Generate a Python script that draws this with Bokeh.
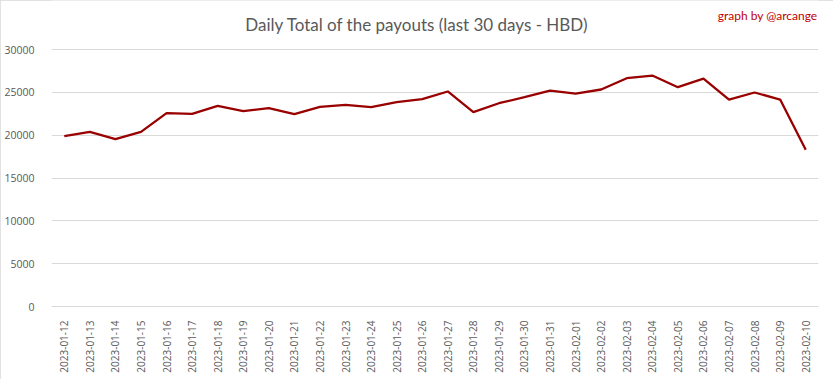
from bokeh.plotting import figure
from bokeh.models import Range1d, FactorRange, FixedTicker, NumeralTickFormatter, Label
from bokeh.embed import file_html
from bokeh.resources import INLINE
import math

dates = ["2023-01-12", "2023-01-13", "2023-01-14", "2023-01-15", "2023-01-16", "2023-01-17",
         "2023-01-18", "2023-01-19", "2023-01-20", "2023-01-21", "2023-01-22", "2023-01-23",
         "2023-01-24", "2023-01-25", "2023-01-26", "2023-01-27", "2023-01-28", "2023-01-29",
         "2023-01-30", "2023-01-31", "2023-02-01", "2023-02-02", "2023-02-03", "2023-02-04",
         "2023-02-05", "2023-02-06", "2023-02-07", "2023-02-08", "2023-02-09", "2023-02-10"]
payouts = [19880, 20390, 19530, 20390, 22570, 22490, 23420, 22800, 23150, 22450,
           23310, 23540, 23270, 23860, 24200, 25100, 22680, 23730, 24430, 25210,
           24860, 25330, 26650, 26960, 25600, 26610, 24160, 24980, 24160, 18290]
y_ticks = [0, 5000, 10000, 15000, 20000, 25000, 30000]

FONT = "Open Sans"
GRAY = "#595959"

W, H = 833, 379
LEFT, RIGHT, BOTTOM = 51, 15, 73
PLOT_TOP = 49                     # pixel row of the top gridline (30000)
frame_h = H - BOTTOM              # frame spans whole top area so titles can live inside it
y_max = max(y_ticks)
y_end = y_max * frame_h / (frame_h - PLOT_TOP)

p = figure(width=W, height=H, output_backend="svg", toolbar_location=None,
           x_range=FactorRange(*dates, range_padding=0), y_range=Range1d(0, y_end),
           min_border_left=LEFT, min_border_right=RIGHT, min_border_top=0, min_border_bottom=BOTTOM)
p.outline_line_color = None
p.background_fill_color = "white"
p.border_fill_color = "white"
p.styles = {"outline": "1px solid #d9d9d9", "outline-offset": "-1px"}

p.line(dates, payouts, line_color="#990000", line_width=2.3)

p.yaxis.ticker = FixedTicker(ticks=y_ticks)
p.yaxis.formatter = NumeralTickFormatter(format="0")
p.yaxis.axis_line_color = None
p.yaxis.major_tick_line_color = None
p.yaxis.minor_tick_line_color = None
p.yaxis.major_label_text_font = FONT
p.yaxis.major_label_text_font_size = "10.5px"
p.yaxis.major_label_text_color = GRAY
p.yaxis.major_label_standoff = 11

p.xaxis.axis_line_color = "#d9d9d9"
p.xaxis.major_tick_line_color = None
p.xaxis.minor_tick_line_color = None
p.xaxis.major_label_orientation = math.pi / 2
p.xaxis.major_label_text_font = FONT
p.xaxis.major_label_text_font_size = "10px"
p.xaxis.major_label_text_color = GRAY
p.xaxis.major_label_standoff = 8

p.xgrid.grid_line_color = None
p.ygrid.grid_line_color = "#d9d9d9"
p.ygrid.grid_line_width = 1

frame_w = W - LEFT - RIGHT
p.add_layout(Label(x=416.5 - LEFT, y=frame_h - 24, x_units="screen", y_units="screen",
                   text="Daily Total of the payouts (last 30 days - HBD)",
                   text_font="Lato", text_font_size="17px", text_color=GRAY,
                   text_align="center", text_baseline="middle"))
p.add_layout(Label(x=frame_w - 1, y=frame_h - 15, x_units="screen", y_units="screen",
                   text="graph by @arcange",
                   text_font="Lato", text_font_size="12px", text_color="#c00000",
                   text_align="right", text_baseline="middle"))

open("out.html", "w").write(file_html(p, INLINE))
